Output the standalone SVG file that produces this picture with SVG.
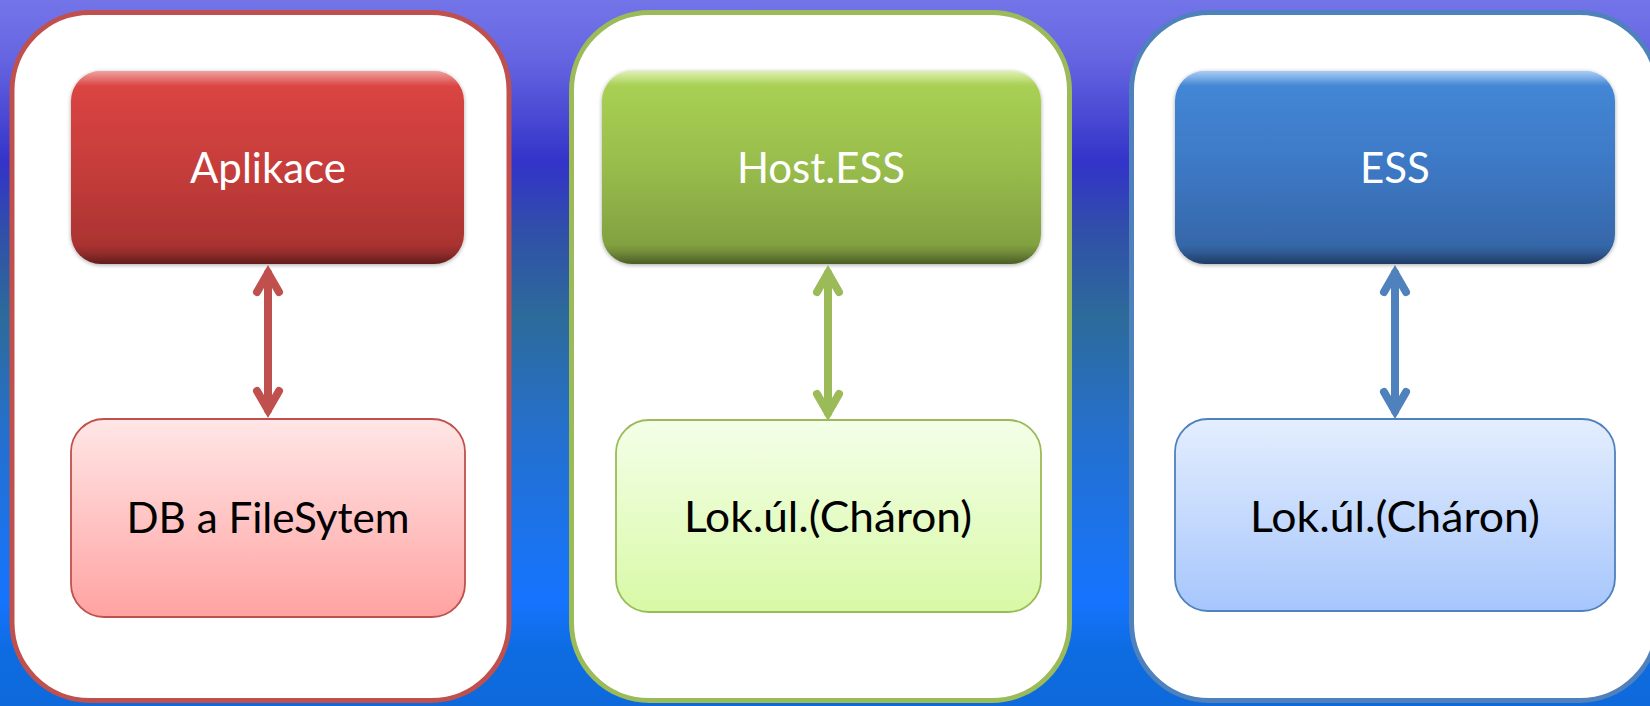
<svg xmlns="http://www.w3.org/2000/svg" width="1650" height="706" viewBox="0 0 1650 706">
  <defs>
    <linearGradient id="bg" x1="0" y1="0" x2="0" y2="1">
      <stop offset="0" stop-color="#7474E9"/>
      <stop offset="0.08" stop-color="#6666E2"/>
      <stop offset="0.23" stop-color="#3333C9"/>
      <stop offset="0.33" stop-color="#3050A8"/>
      <stop offset="0.45" stop-color="#2D6B9B"/>
      <stop offset="0.62" stop-color="#2470CF"/>
      <stop offset="0.85" stop-color="#1574FE"/>
      <stop offset="0.92" stop-color="#0E6CE2"/>
      <stop offset="1" stop-color="#0E6ADB"/>
    </linearGradient>
    <linearGradient id="gRedTop" x1="0" y1="0" x2="0" y2="1">
      <stop offset="0" stop-color="#E05550"/>
      <stop offset="0.06" stop-color="#DB4542"/>
      <stop offset="0.5" stop-color="#C63D3B"/>
      <stop offset="0.94" stop-color="#A83231"/>
      <stop offset="1" stop-color="#8E2A29"/>
    </linearGradient>
    <linearGradient id="gGreenTop" x1="0" y1="0" x2="0" y2="1">
      <stop offset="0" stop-color="#C3E46E"/>
      <stop offset="0.06" stop-color="#A9D153"/>
      <stop offset="0.5" stop-color="#98BC4C"/>
      <stop offset="0.94" stop-color="#809E40"/>
      <stop offset="1" stop-color="#6C8636"/>
    </linearGradient>
    <linearGradient id="gBlueTop" x1="0" y1="0" x2="0" y2="1">
      <stop offset="0" stop-color="#5FA2EC"/>
      <stop offset="0.06" stop-color="#4387D6"/>
      <stop offset="0.5" stop-color="#3D78C4"/>
      <stop offset="0.94" stop-color="#3566A7"/>
      <stop offset="1" stop-color="#2C5690"/>
    </linearGradient>
    <linearGradient id="hl" x1="0" y1="0" x2="0" y2="1">
      <stop offset="0" stop-color="#FFFFFF" stop-opacity="0.45"/>
      <stop offset="0.08" stop-color="#FFFFFF" stop-opacity="0"/>
      <stop offset="0.9" stop-color="#000000" stop-opacity="0"/>
      <stop offset="1" stop-color="#000000" stop-opacity="0.3"/>
    </linearGradient>
    <linearGradient id="gRedBot" x1="0" y1="0" x2="0" y2="1">
      <stop offset="0" stop-color="#FFE6E6"/>
      <stop offset="1" stop-color="#FFA3A2"/>
    </linearGradient>
    <linearGradient id="gGreenBot" x1="0" y1="0" x2="0" y2="1">
      <stop offset="0" stop-color="#F4FFE8"/>
      <stop offset="1" stop-color="#D8F9A6"/>
    </linearGradient>
    <linearGradient id="gBlueBot" x1="0" y1="0" x2="0" y2="1">
      <stop offset="0" stop-color="#E4EEFE"/>
      <stop offset="1" stop-color="#A6C6FC"/>
    </linearGradient>
    <filter id="sh" x="-10%" y="-10%" width="120%" height="130%">
      <feGaussianBlur in="SourceAlpha" stdDeviation="2"/>
      <feOffset dy="1" result="b"/>
      <feComponentTransfer><feFuncA type="linear" slope="0.35"/></feComponentTransfer>
      <feMerge><feMergeNode/><feMergeNode in="SourceGraphic"/></feMerge>
    </filter>
    <style>
      .panel { fill: #FFFFFF; stroke-width: 5; }
      .top { filter: url(#sh); }
      .gloss { fill: url(#hl); }
      .bot { stroke-width: 1.8; }
      .tw { font-family: Lato, "Open Sans", "Liberation Sans", sans-serif; font-size: 42px; fill: #FFFFFF; text-anchor: middle; }
      .tb { font-family: Lato, "Open Sans", "Liberation Sans", sans-serif; font-size: 43px; fill: #000000; text-anchor: middle; }
      .conn { fill: none; stroke-width: 8; stroke-linecap: round; stroke-linejoin: miter; }
    </style>
  </defs>

  <rect x="0" y="0" width="1650" height="706" fill="url(#bg)"/>

  <g id="panel-red">
    <rect class="panel" x="12" y="12.5" width="497" height="688" rx="78" stroke="#C0504D"/>
  </g>
  <g id="panel-green">
    <rect class="panel" x="571.5" y="12.5" width="498" height="688" rx="78" stroke="#9BBB59"/>
  </g>
  <g id="panel-blue">
    <rect class="panel" x="1131.5" y="12.5" width="526" height="688" rx="78" stroke="#4F81BD"/>
  </g>

  <g id="node-aplikace">
    <rect class="top" x="71" y="71" width="393" height="193" rx="30" fill="url(#gRedTop)"/>
    <rect class="gloss" x="71" y="71" width="393" height="193" rx="30"/>
    <text class="tw" x="268" y="183">Aplikace</text>
  </g>
  <g id="node-db">
    <rect class="bot" x="71" y="419" width="394" height="198" rx="33" fill="url(#gRedBot)" stroke="#C0504D"/>
    <text class="tb" x="268" y="533" textLength="283" lengthAdjust="spacingAndGlyphs">DB a FileSytem</text>
  </g>

  <g id="node-hostess">
    <rect class="top" x="602" y="71" width="439" height="193" rx="30" fill="url(#gGreenTop)"/>
    <rect class="gloss" x="602" y="71" width="439" height="193" rx="30"/>
    <text class="tw" x="821" y="183">Host.ESS</text>
  </g>
  <g id="node-lok-green">
    <rect class="bot" x="616" y="420" width="425" height="192" rx="33" fill="url(#gGreenBot)" stroke="#9BBB59"/>
    <text class="tb" x="828" y="532" textLength="288" lengthAdjust="spacingAndGlyphs">Lok.úl.(Cháron)</text>
  </g>

  <g id="node-ess">
    <rect class="top" x="1175" y="71" width="440" height="193" rx="30" fill="url(#gBlueTop)"/>
    <rect class="gloss" x="1175" y="71" width="440" height="193" rx="30"/>
    <text class="tw" x="1395" y="183">ESS</text>
  </g>
  <g id="node-lok-blue">
    <rect class="bot" x="1175" y="419" width="440" height="192" rx="33" fill="url(#gBlueBot)" stroke="#4F81BD"/>
    <text class="tb" x="1395" y="532" textLength="290" lengthAdjust="spacingAndGlyphs">Lok.úl.(Cháron)</text>
  </g>

  <g id="connectors">
    <g stroke="#C0504D" class="conn">
      <path d="M268,273 V410"/>
      <path d="M257,292 L268,273 L279,292"/>
      <path d="M257,391 L268,410 L279,391"/>
    </g>
    <g stroke="#9BBB59" class="conn">
      <path d="M828,273 V413"/>
      <path d="M817,292 L828,273 L839,292"/>
      <path d="M817,394 L828,413 L839,394"/>
    </g>
    <g stroke="#4F81BD" class="conn">
      <path d="M1395,273 V411"/>
      <path d="M1384,292 L1395,273 L1406,292"/>
      <path d="M1384,392 L1395,411 L1406,392"/>
    </g>
  </g>
</svg>
